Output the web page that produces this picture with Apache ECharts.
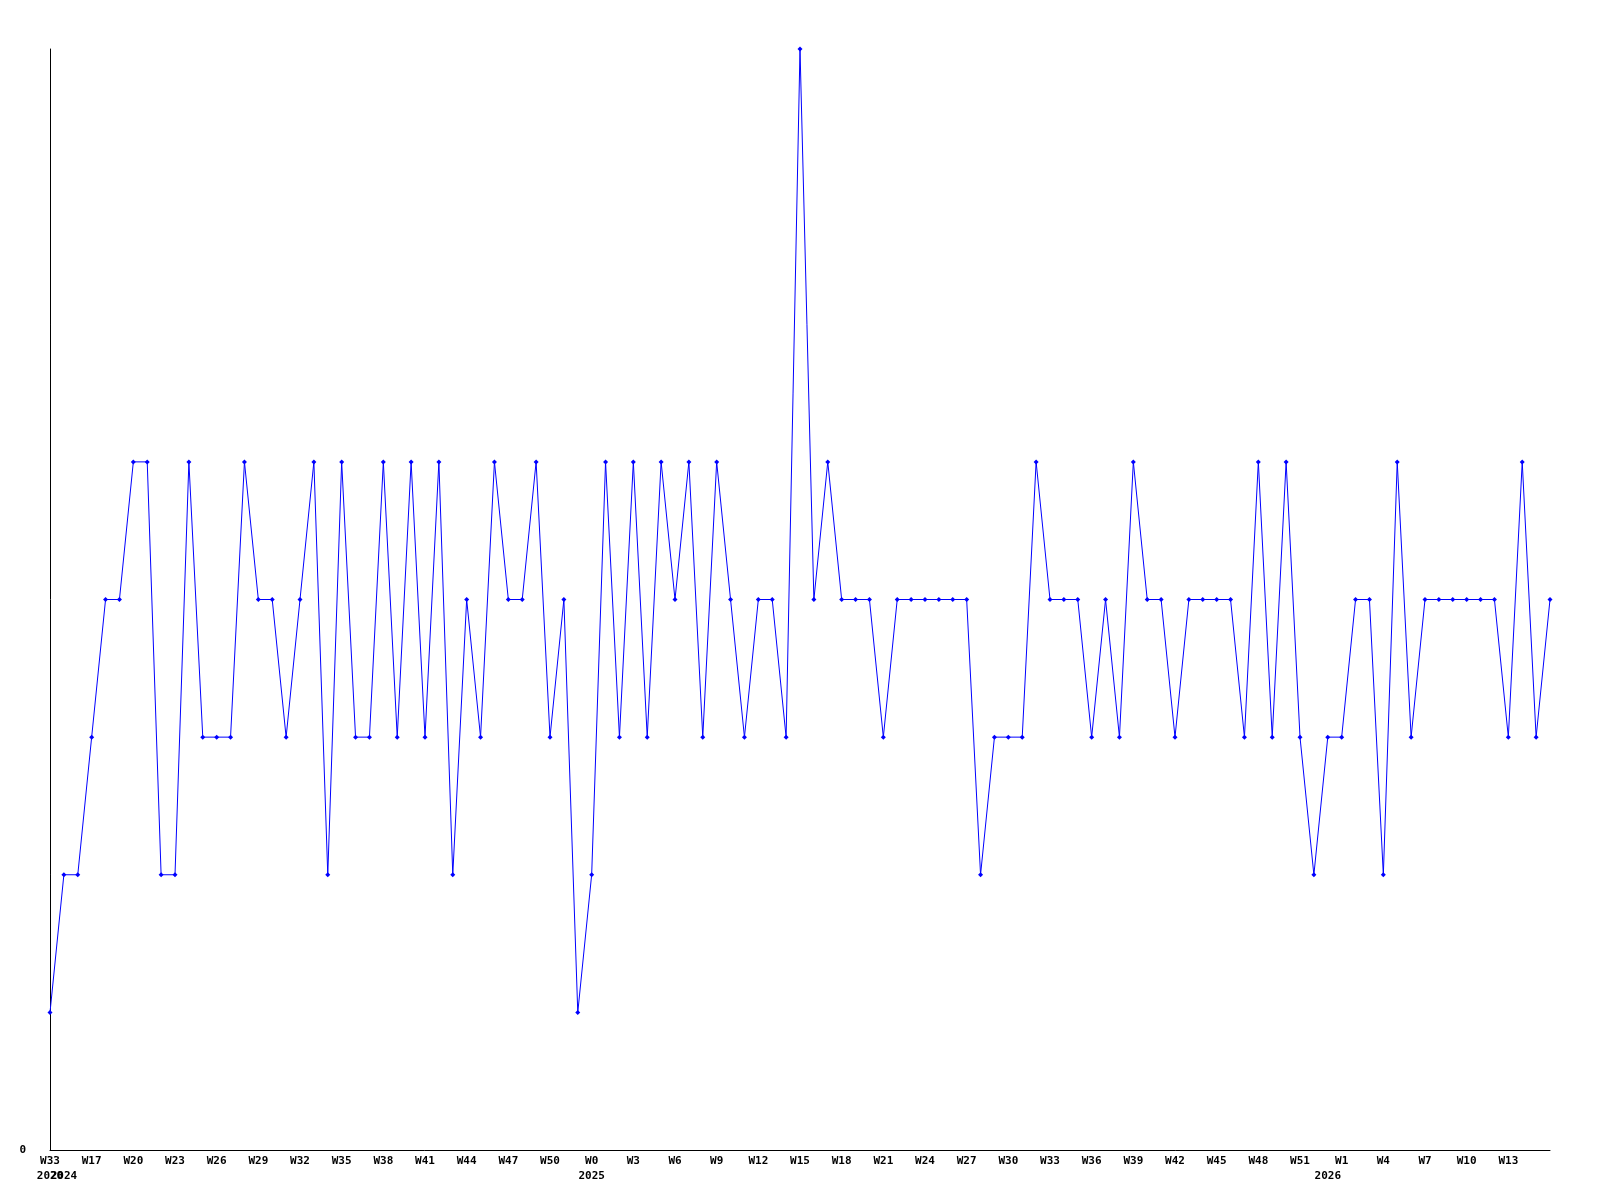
<!DOCTYPE html>
<html>
<head>
<meta charset="utf-8">
<script src="https://cdn.jsdelivr.net/npm/echarts@6/dist/echarts.min.js"></script>
<style>
html,body{margin:0;padding:0;background:#fff;}
#chart{width:1600px;height:1200px;}
</style>
</head>
<body>
<div id="chart"></div>
<script>
const weeks = [
  'W33',
  'W15','W16','W17','W18','W19','W20','W21','W22','W23','W24','W25','W26','W27','W28','W29','W30','W31','W32','W33','W34',
  'W35','W36','W37','W38','W39','W40','W41','W42','W43','W44','W45','W46','W47','W48','W49','W50','W51','W52',
  'W0','W1','W2','W3','W4','W5','W6','W7','W8','W9','W10','W11','W12','W13','W14','W15','W16','W17','W18','W19','W20',
  'W21','W22','W23','W24','W25','W26','W27','W28','W29','W30','W31','W32','W33','W34','W35','W36','W37','W38','W39','W40',
  'W41','W42','W43','W44','W45','W46','W47','W48','W49','W50','W51','W52',
  'W0','W1','W2','W3','W4','W5','W6','W7','W8','W9','W10','W11','W12','W13','W14','W15','W16'
];
const values = [
  1,2,2,3,4,4,5,5,2,2,
  5,3,3,3,5,4,4,3,4,5,
  2,5,3,3,5,3,5,3,5,2,
  4,3,5,4,4,5,3,4,1,2,
  5,3,5,3,5,4,5,3,5,4,
  3,4,4,3,8,4,5,4,4,4,
  3,4,4,4,4,4,4,2,3,3,
  3,5,4,4,4,3,4,3,5,4,
  4,3,4,4,4,4,3,5,3,5,
  3,2,3,3,4,4,2,5,3,4,
  4,4,4,4,4,3,5,3,4
];
const yearStartIndex = [0, 1, 39, 92];
const yearLabels = ['2020', '2024', '2025', '2026'];
const weekLabelEvery = 3;
const yTickLabels = ['0'];

const chart = echarts.init(document.getElementById('chart'), null, {renderer: 'canvas'});
const labelFont = {
  fontFamily: 'DejaVu Sans Mono',
  fontWeight: 'bold',
  fontSize: 11,
  color: '#000'
};

// year starts that fall on a week-label tick go on the main axis;
// the others go on an overlaid axis so they are not dropped as overlapping
function mainAxisShows(i) {
  return i < weeks.length - 1 && i % weekLabelEvery === 0;
}
function extraYearIdx() {
  return yearStartIndex.filter(function (i) { return !mainAxisShows(i); });
}

function makeXAxis(isMain) {
  const extra = extraYearIdx();
  return {
    type: 'category',
    data: weeks,
    boundaryGap: false,
    position: 'bottom',
    offset: 0,
    axisLine: {show: isMain, onZero: false, lineStyle: {color: '#000', width: 1}},
    axisTick: {show: false},
    splitLine: {show: false},
    axisLabel: Object.assign({}, labelFont, {
      margin: 4,
      lineHeight: 15,
      hideOverlap: false,
      showMinLabel: true,
      showMaxLabel: true,
      interval: function (i) {
        return isMain ? mainAxisShows(i) : extra.indexOf(i) >= 0;
      },
      formatter: function (v, i) {
        const k = yearStartIndex.indexOf(i);
        if (isMain) {
          return k >= 0 ? v + '\n' + yearLabels[k] : v;
        }
        return k >= 0 ? ' \n' + yearLabels[k] : '';
      }
    })
  };
}

chart.setOption({
  backgroundColor: '#ffffff',
  animation: false,
  grid: {left: 50, right: 50, top: 49, bottom: 50, containLabel: false},
  xAxis: [makeXAxis(true), makeXAxis(false)],
  yAxis: {
    type: 'value',
    min: 0,
    max: 8,
    interval: 8,
    axisLine: {show: true, lineStyle: {color: '#000', width: 1}},
    axisTick: {show: false},
    splitLine: {show: false},
    axisLabel: Object.assign({}, labelFont, {
      margin: 24,
      formatter: function (v) { return v === 0 ? yTickLabels[0] : ''; }
    })
  },
  series: [{
    type: 'line',
    xAxisIndex: 0,
    data: values,
    symbol: 'diamond',
    symbolSize: 5,
    showAllSymbol: true,
    lineStyle: {color: '#0000ff', width: 1},
    itemStyle: {color: '#0000ff'},
    emphasis: {disabled: true}
  }]
});
</script>
</body>
</html>
